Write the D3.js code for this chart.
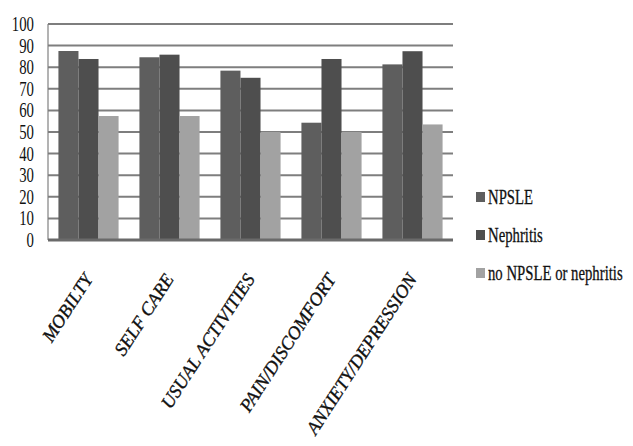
<!DOCTYPE html>
<html>
<head>
<meta charset="utf-8">
<script src="https://cdn.jsdelivr.net/npm/d3@7"></script>
<style>
    body { margin: 0; background: #fff; }
    svg { display: block; }
    text { font-family: "Liberation Serif", serif; fill: #111; }
</style>
</head>
<body>
<svg width="633" height="446"></svg>
<script>
var categories = ['MOBILTY', 'SELF CARE', 'USUAL ACTIVITIES', 'PAIN/DISCOMFORT', 'ANXIETY/DEPRESSION'];
var seriesNames = ['NPSLE', 'Nephritis', 'no NPSLE or nephritis'];
var npsle = [87.5, 84.6, 78.4, 54.3, 81.3];
var nephritis = [83.8, 85.8, 75.1, 83.8, 87.4];
var neither = [57.4, 57.4, 50, 50, 53.5];
var yTicks = [0, 10, 20, 30, 40, 50, 60, 70, 80, 90, 100];
var colors = ['#5e5e5e', '#4e4e4e', '#a2a2a2'];

var series = [npsle, nephritis, neither];

var svg = d3.select('svg');
var plot = {left: 48, right: 453, top: 24, bottom: 240};
var squeeze = 0.67; // the source lettering is narrow

var x = d3.scaleBand()
    .domain(categories)
    .range([plot.left, plot.right]);

var inner = d3.scaleBand()
    .domain(d3.range(seriesNames.length))
    .range([0, x.bandwidth()])
    .paddingOuter(0.52)
    .paddingInner(0);

var y = d3.scaleLinear()
    .domain([0, 100])
    .range([plot.bottom, plot.top]);

// left border
svg.append('line')
    .attr('x1', plot.left).attr('x2', plot.left)
    .attr('y1', y(100)).attr('y2', y(0))
    .style('stroke', '#9a9a9a')
    .style('stroke-width', 1.5);

// gridlines
svg.append('g')
    .selectAll('line')
    .data(yTicks.filter(function (d) { return d > 0; }))
    .enter()
    .append('line')
    .attr('x1', plot.left)
    .attr('x2', plot.right)
    .attr('y1', function (d) { return y(d); })
    .attr('y2', function (d) { return y(d); })
    .style('stroke', '#7e7e7e')
    .style('stroke-width', 2);

// bars
var groups = svg.append('g')
    .selectAll('g')
    .data(series)
    .enter()
    .append('g')
    .style('fill', function (d, i) { return colors[i]; });

groups.each(function (values, s) {
    d3.select(this)
        .selectAll('rect')
        .data(values)
        .enter()
        .append('rect')
        .attr('x', function (d, i) { return x(categories[i]) + inner(s); })
        .attr('width', inner.bandwidth())
        .attr('y', function (d) { return y(d); })
        .attr('height', function (d) { return y(0) - y(d); });
});

// x axis line
svg.append('line')
    .attr('x1', plot.left).attr('x2', plot.right)
    .attr('y1', y(0)).attr('y2', y(0))
    .style('stroke', '#6a6a6a')
    .style('stroke-width', 3);

// y tick labels, narrowed with a scale so the box stays honest
svg.append('g')
    .selectAll('text')
    .data(yTicks)
    .enter()
    .append('text')
    .attr('transform', function (d) { return 'translate(34,' + (y(d) + 7) + ') scale(0.72,1)'; })
    .attr('text-anchor', 'end')
    .style('font-size', '20.5px')
    .text(function (d) { return d; });

// category labels
svg.append('g')
    .selectAll('text')
    .data(categories)
    .enter()
    .append('text')
    .attr('transform', function (d) {
        return 'translate(' + (x(d) + x.bandwidth() / 2 + 5) + ',279) rotate(-57)';
    })
    .attr('text-anchor', 'end')
    .style('font-style', 'italic')
    .style('font-size', '18.5px')
    .style('stroke', '#111')
    .style('stroke-width', 0.35)
    .text(function (d) { return d; });

// legend
var legendY = d3.scalePoint()
    .domain(seriesNames)
    .range([204, 280]);

var legend = svg.append('g')
    .selectAll('g')
    .data(seriesNames)
    .enter()
    .append('g')
    .attr('transform', function (d) { return 'translate(476,' + legendY(d) + ')'; });

legend.append('rect')
    .attr('x', 0)
    .attr('y', -12)
    .attr('width', 9)
    .attr('height', 10)
    .style('fill', function (d, i) { return colors[i]; });

legend.append('text')
    .attr('transform', 'translate(12,0) scale(' + squeeze + ',1)')
    .style('font-size', '22px')
    .style('stroke', '#111')
    .style('stroke-width', 0.3)
    .text(function (d) { return d; });
</script>
</body>
</html>
